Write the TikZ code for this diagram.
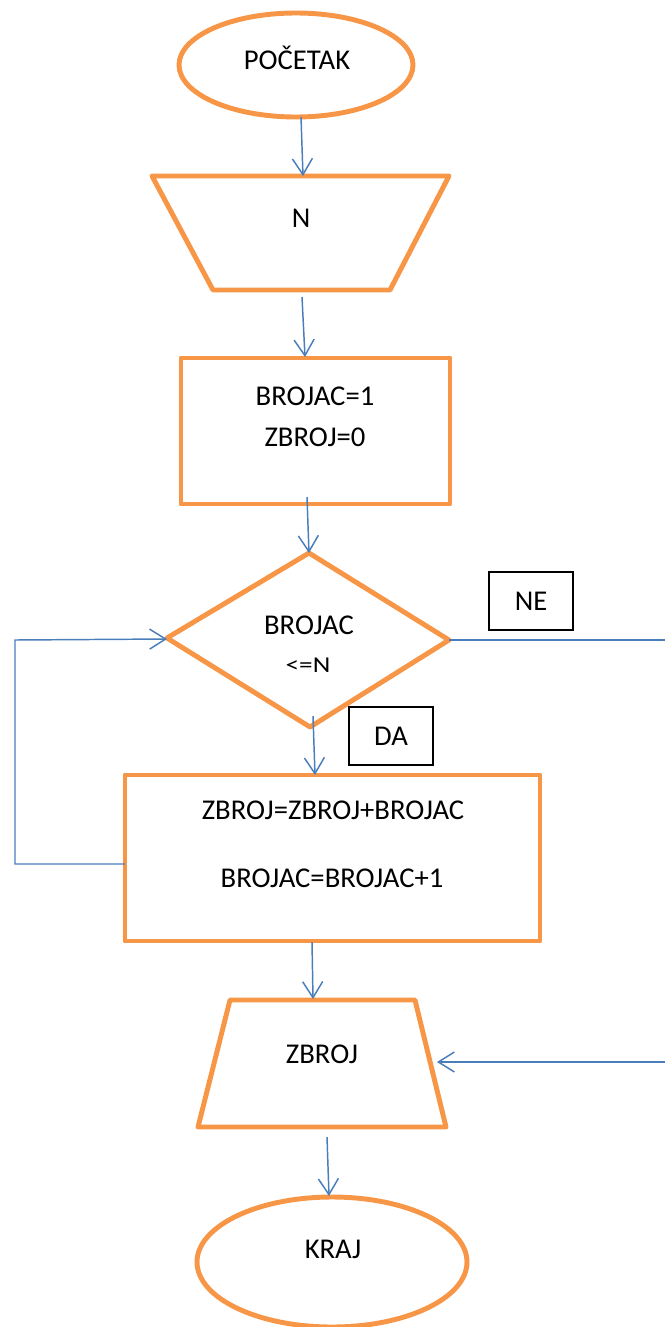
\documentclass[tikz,border=0pt]{standalone}
\usepackage{fontspec}
\setmainfont{Carlito}
\usetikzlibrary{arrows.meta,shapes.geometric}
\definecolor{orng}{HTML}{F79646}
\definecolor{blu}{HTML}{4A7EBB}
\begin{document}
\begin{tikzpicture}[x=0.75pt,y=-0.75pt,
  shp/.style={draw=orng, line width=3.7pt, line join=round},
  conn/.style={draw=blu, line width=1.1pt, -{Straight Barb[length=12pt,width=15pt,line width=1.1pt]}},
  txt/.style={font=\fontsize{21.5}{26}\selectfont, inner sep=0pt, anchor=base},
  smalltxt/.style={font=\fontsize{17}{20}\selectfont, inner sep=0pt, anchor=base},
  lbl/.style={draw=black, line width=1.2pt, rectangle, minimum width=63pt, minimum height=43.5pt, inner sep=0pt, font=\fontsize{21.5}{26}\selectfont}]
\useasboundingbox (0,0) rectangle (664,1327);

% shapes
\node[shp, ellipse, minimum width=175.5pt, minimum height=78pt, inner sep=0pt] (start) at (296,65) {};
\draw[shp] (152,176) -- (449,176) -- (390,290) -- (213,290) -- cycle;
\node[shp, rectangle, minimum width=201.75pt, minimum height=109.5pt, inner sep=0pt] (init) at (315.5,431) {};
\draw[shp] (309,553) -- (449,640) -- (310,727) -- (167,638) -- cycle;
\node[shp, rectangle, minimum width=311.25pt, minimum height=124.5pt, inner sep=0pt] (body) at (332.5,858) {};
\draw[shp] (230,1000) -- (415,1000) -- (446,1127) -- (198,1127) -- cycle;
\node[shp, ellipse, minimum width=202.5pt, minimum height=97.5pt, inner sep=0pt] (stop) at (332,1262) {};

% texts
\node[txt] (tstart) at (297,70) {POČETAK};
\node[txt] (tin) at (301,227) {N};
\node[txt] (ti1) at (315,405) {BROJAC=1};
\node[txt] (ti2) at (315,446) {ZBROJ=0};
\node[txt] (tc1) at (309,634) {BROJAC};
\node[smalltxt] (tc2) at (308,672) {\scalebox{1.2}[1]{<=N}};
\node[txt] (tb1) at (333,819) {ZBROJ=ZBROJ+BROJAC};
\node[txt] (tb2) at (332,887) {BROJAC=BROJAC+1};
\node[txt] (tout) at (322,1063) {ZBROJ};
\node[txt] (tstop) at (333,1258) {KRAJ};

% labels
\node[lbl] (ne) at (531,601) {NE};
\node[lbl] (da) at (391,736) {DA};

% connector points
\coordinate (a1s) at (301,117); \coordinate (a1e) at (303,176);
\coordinate (a2s) at (302,297); \coordinate (a2e) at (305,357);
\coordinate (a3s) at (307,497); \coordinate (a3e) at (309,553);
\coordinate (a4s) at (313,716); \coordinate (a4e) at (315,775);
\coordinate (a5s) at (312,942); \coordinate (a5e) at (313,999);
\coordinate (a6s) at (327,1137); \coordinate (a6e) at (329,1196);
\coordinate (dR) at (449,640); \coordinate (dL) at (167,639);
\coordinate (outR) at (437,1062);
\coordinate (bL) at (125,864);

\draw[conn] (a1s) -- (a1e);
\draw[conn] (a2s) -- (a2e);
\draw[conn] (a3s) -- (a3e);
\draw[conn] (a4s) -- (a4e);
\draw[conn] (a5s) -- (a5e);
\draw[conn] (a6s) -- (a6e);
\draw[conn] (dR) -- (700,640) -- (700,1062) -- (outR);
\draw[conn] (bL) -- (15,864) -- (15,640) -- (dL);
\end{tikzpicture}
\end{document}
